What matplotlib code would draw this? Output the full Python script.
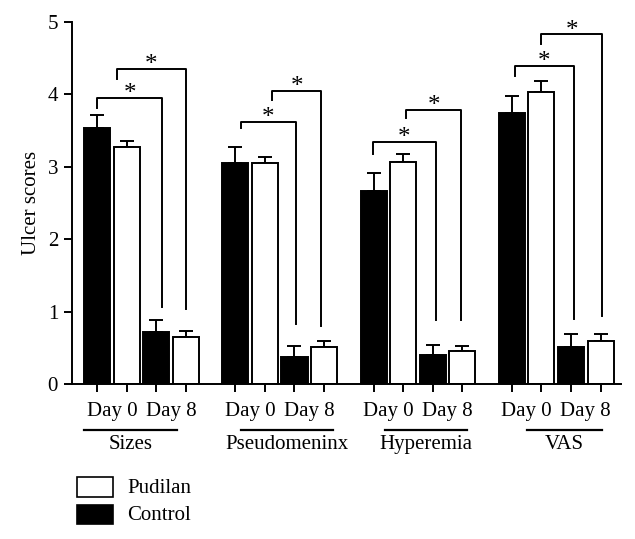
import numpy as np
import matplotlib.pyplot as plt
from matplotlib.patches import Rectangle

plt.rcParams['font.family'] = ['Liberation Serif', 'DejaVu Serif']

# ───── data ─────────────────────────────────────────────────────────────
GROUPS = ["Sizes", "Pseudomeninx", "Hyperemia", "VAS"]
DAY_LABELS = ["Day 0", "Day 8"]

ctrl_d0 = [3.54, 3.06, 2.66, 3.75]
pud_d0 = [3.28, 3.06, 3.07, 4.03]
ctrl_d8 = [0.72, 0.37, 0.40, 0.51]
pud_d8 = [0.65, 0.51, 0.45, 0.59]

ctrl_d0_err = [0.18, 0.22, 0.25, 0.23]
pud_d0_err = [0.08, 0.07, 0.11, 0.16]
ctrl_d8_err = [0.16, 0.15, 0.14, 0.18]
pud_d8_err = [0.08, 0.08, 0.08, 0.10]

# brackets: (Control Day 0 vs Control Day 8) and (Pudilan Day 0 vs Pudilan Day 8)
b1_top = [3.95, 3.62, 3.35, 4.39]
b1_left_end = [3.81, 3.54, 3.18, 4.25]
b1_right_end = [1.06, 0.83, 0.88, 0.90]
b2_top = [4.35, 4.05, 3.79, 4.83]
b2_left_end = [4.21, 3.92, 3.68, 4.70]
b2_right_end = [1.03, 0.80, 0.88, 0.94]

# small horizontal nudges of bracket legs (hand-drawn in the original)
b1_dl = [0.0, 0.19, -0.02, 0.11]
b1_dr = [0.2, 0.05, 0.11, 0.10]
b2_dl = [-0.32, 0.24, 0.10, 0.0]
b2_dr = [0.0, -0.10, -0.04, 0.05]

# extent of the group underline, relative to the first bar of each group
line_start = [-0.44, 0.19, 0.39, 0.52]
line_end = [2.70, 3.30, 3.16, 3.05]

GROUP_STEP = 4.67

fig = plt.figure(figsize=(6.35, 5.39), dpi=100)
ax = fig.add_axes([0.1134, 0.2876, 0.978 - 0.1134, 0.959 - 0.2876])

series = [(ctrl_d0, ctrl_d0_err, "black"),
          (pud_d0, pud_d0_err, "white"),
          (ctrl_d8, ctrl_d8_err, "black"),
          (pud_d8, pud_d8_err, "white")]

base = np.arange(len(GROUPS)) * GROUP_STEP
all_pos = []
for i, (vals, errs, col) in enumerate(series):
    pos = base + i
    all_pos.extend(pos)
    ax.errorbar(pos, vals, yerr=[np.zeros(len(vals)), errs], fmt="none",
                ecolor="black", elinewidth=1.4, capsize=5, capthick=1.4, zorder=1)
    ax.bar(pos, vals, width=0.88, color=col, edgecolor="black",
           linewidth=1.4, zorder=2)

# significance brackets
for g in range(len(GROUPS)):
    for top, le, re_, dl, dr, i0, i1 in [
            (b1_top[g], b1_left_end[g], b1_right_end[g], b1_dl[g], b1_dr[g], 0, 2),
            (b2_top[g], b2_left_end[g], b2_right_end[g], b2_dl[g], b2_dr[g], 1, 3)]:
        xl = base[g] + i0 + dl
        xr = base[g] + i1 + dr
        ax.plot([xl, xl, xr, xr], [le, top, top, re_], color="black",
                lw=1.4, clip_on=False, zorder=3)
        ax.text((xl + xr) / 2, top - 0.1, "*", ha="center", va="bottom",
                fontsize=18, clip_on=False)

ax.set_xlim(-0.845, 17.7)
ax.set_ylim(0, 5)
ax.set_yticks(range(0, 6))
ax.set_xticks(all_pos)
ax.set_xticklabels([])
ax.tick_params(axis="both", width=1.4, length=6, labelsize=15, direction="out")
ax.tick_params(axis="y", pad=4)
for s in ["top", "right"]:
    ax.spines[s].set_visible(False)
for s in ["left", "bottom"]:
    ax.spines[s].set_linewidth(1.4)
ax.set_ylabel("Ulcer scores", fontsize=15, labelpad=5)

# category labels below axis
trans = ax.get_xaxis_transform()
for g, name in enumerate(GROUPS):
    for k, lab in enumerate(DAY_LABELS):
        ax.text(base[g] + 2 * k + 0.5, -0.075, lab, transform=trans,
                ha="center", va="center", fontsize=15, clip_on=False)
    x0 = base[g] + line_start[g]
    x1 = base[g] + line_end[g]
    ax.plot([x0, x1], [-0.127, -0.127], transform=trans,
            color="black", lw=1.6, clip_on=False)
    ax.text((x0 + x1) / 2, -0.167, name, transform=trans, ha="center",
            va="center", fontsize=15, clip_on=False)

# legend
fig.patches.append(Rectangle((0.121, 0.078), 0.057, 0.037, transform=fig.transFigure,
                             facecolor="white", edgecolor="black", lw=1.2))
fig.patches.append(Rectangle((0.121, 0.028), 0.057, 0.035, transform=fig.transFigure,
                             facecolor="black", edgecolor="black", lw=1.2))
fig.text(0.2, 0.0946, "Pudilan", ha="left", va="center", fontsize=15)
fig.text(0.2, 0.0445, "Control", ha="left", va="center", fontsize=15)

fig.savefig("out.png", dpi=100)
